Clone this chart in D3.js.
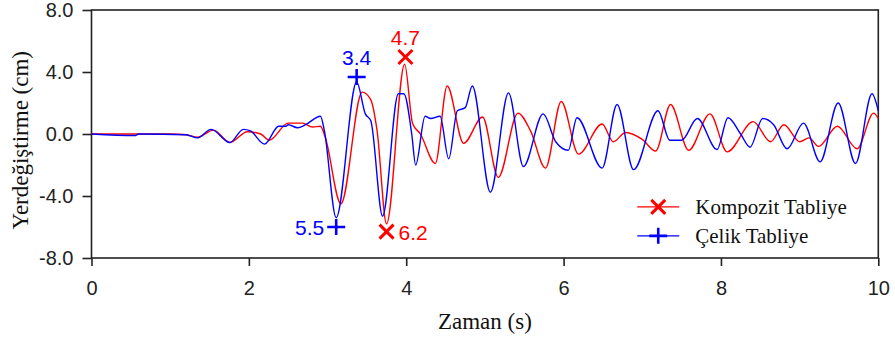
<!DOCTYPE html>
<html>
<head>
<meta charset="utf-8">
<script src="https://cdn.jsdelivr.net/npm/d3@7"></script>
<style>
  body { margin: 0; background: #fff; }
  .tick text { font-family: "Liberation Sans", Arial, sans-serif; font-size: 20px; fill: #222; }
  .title { font-family: "Liberation Serif", "Times New Roman", serif; font-size: 23px; fill: #111; }
  .legend text { font-family: "Liberation Serif", "Times New Roman", serif; font-size: 21px; fill: #111; }
  .peak_label { font-family: "Liberation Sans", Arial, sans-serif; font-size: 21px; }
</style>
</head>
<body>
<svg id="chart" width="895" height="338"></svg>
<script>
// Kompozit Tabliye (red)
var kompozitTime = [0, 0.5, 1.0, 1.2, 1.35, 1.55, 1.76, 1.98, 2.15, 2.26, 2.5, 2.68, 2.81, 2.91, 2.97, 3.17,
    3.44, 3.55, 3.63, 3.75, 3.98, 4.08, 4.18, 4.37, 4.52, 4.73, 4.97, 5.17, 5.42, 5.58, 5.77, 5.97, 6.19,
    6.49, 6.63, 6.79, 7.0, 7.17, 7.36, 7.59, 7.86, 8.08, 8.41, 8.63, 8.8, 9.0, 9.12, 9.24, 9.48, 9.73, 9.94, 10];
var kompozitDisp = [0, 0, 0, -0.05, -0.2, 0.25, -0.55, 0.15, 0.0, -0.4, 0.7, 0.7, 0.45, 0.5, -0.2, -4.5,
    2.7, 2.2, 0.2, -5.8, 4.5, 0.7, 0.0, -1.9, 3.1, -0.6, 1.1, -2.8, 1.35, 0.2, -2.2, 2.1, -1.3,
    0.65, -0.5, 0.1, -0.35, -1.1, 1.9, -1.05, 1.3, -1.15, 0.8, -0.5, 0.6, -0.5, -0.25, -0.8, 0.5, -0.95, 1.35, 1.0];

// Celik Tabliye (blue)
var celikTime = [0, 0.55, 0.6, 1.2, 1.35, 1.52, 1.76, 1.93, 2.02, 2.2, 2.38, 2.47, 2.5, 2.62, 2.72, 2.91, 2.96,
    3.11, 3.37, 3.48, 3.55, 3.7, 3.9, 3.97, 4.07, 4.12, 4.24, 4.31, 4.43, 4.54, 4.65, 4.75, 4.84, 5.07, 5.3,
    5.49, 5.74, 5.9, 6.06, 6.17, 6.49, 6.68, 6.89, 7.2, 7.35, 7.5, 7.7, 7.95, 8.09, 8.25, 8.37, 8.53, 8.67,
    8.84, 9.05, 9.26, 9.49, 9.71, 9.92, 10];
var celikDisp = [0, -0.1, 0, -0.05, -0.25, 0.3, -0.55, 0.3, 0.2, -0.65, 0.5, 0.5, 0.6, 0.4, 0.6, 1.15, 0.2,
    -5.4, 3.35, 1.3, 0.85, -5.3, 2.6, 2.6, 0.0, -2.0, 1.15, 1.0, 1.15, -1.6, 1.5, 1.7, 3.1, -3.75, 2.65,
    -2.1, 1.3, -0.5, -1.05, 1.05, -2.2, 1.9, -2.3, 1.5, -0.4, -0.4, 1.0, -1.0, 1.05, 0.0, -0.85, 1.0, 0.6,
    -0.95, 0.7, -1.8, 2.0, -1.9, 2.6, 1.5];

// peak markers
var kompozitPeakTime = [3.99, 3.75],
    kompozitPeakDisp = [4.97, -6.3],
    kompozitPeakLabel = ['4.7', '6.2'];
var celikPeakTime = [3.37, 3.11],
    celikPeakDisp = [3.68, -6.0],
    celikPeakLabel = ['3.4', '5.5'];

var xTicks = [0, 2, 4, 6, 8, 10],
    yTicks = [-8, -4, 0, 4, 8],
    seriesNames = ['Kompozit Tabliye', 'Çelik Tabliye'],
    seriesColors = ['#ff0000', '#0000ff'];

var width = 895, height = 338,
    margin = {top: 10, right: 16.7, bottom: 80, left: 91.5};

var svg = d3.select("#chart");
var g = svg.append("g")
    .attr("transform", "translate(" + margin.left + "," + margin.top + ")");

var w = width - margin.left - margin.right,
    h = height - margin.top - margin.bottom;

var x = d3.scaleLinear().domain([0, 10]).range([0, w]);
var y = d3.scaleLinear().domain([-8, 8]).range([h, 0]);

// frame
g.append("rect")
    .attr("width", w).attr("height", h)
    .attr("fill", "none").attr("stroke", "#222").attr("stroke-width", 1.6);

var xAxis = g.append("g")
    .attr("transform", "translate(0," + h + ")")
    .call(d3.axisBottom(x).tickValues(xTicks).tickSize(8).tickPadding(15).tickFormat(d3.format("d")));
var yAxis = g.append("g")
    .call(d3.axisLeft(y).tickValues(yTicks).tickSize(9).tickPadding(9).tickFormat(function(d) { return d.toFixed(1); }));
[xAxis, yAxis].forEach(function(a) {
    a.select(".domain").remove();
    a.selectAll(".tick line").attr("stroke", "#222").attr("stroke-width", 1.6);
});

// titles
g.append("text")
    .attr("class", "title")
    .attr("x", x(5)).attr("y", h + 71)
    .attr("text-anchor", "middle")
    .text("Zaman (s)");
g.append("text")
    .attr("class", "title")
    .attr("transform", "translate(" + (-64) + "," + y(-0.4) + ")rotate(-90)")
    .attr("text-anchor", "middle")
    .text("Yerdeğiştirme (cm)");

var line = d3.line()
    .x(function(d) { return x(d[0]); })
    .y(function(d) { return y(d[1]); })
    .curve(d3.curveMonotoneX);

var series = [
    d3.zip(kompozitTime, kompozitDisp),
    d3.zip(celikTime, celikDisp)
];

g.selectAll(".series")
    .data(series)
  .enter().append("path")
    .attr("class", "series")
    .attr("fill", "none")
    .attr("stroke", function(d, i) { return seriesColors[i]; })
    .attr("stroke-width", 1.4)
    .attr("d", line);

// markers
function cross(sel, color) {   // "x" marker
    sel.append("path")
        .attr("d", "M-7,-7L7,7M-7,7L7,-7")
        .attr("stroke", color).attr("stroke-width", 3).attr("fill", "none");
}
function plus(sel, color) {    // "+" marker
    sel.append("path")
        .attr("d", "M-9,0H9M0,-8V8")
        .attr("stroke", color).attr("stroke-width", 2.6).attr("fill", "none");
}

var kPeaks = d3.zip(kompozitPeakTime, kompozitPeakDisp, kompozitPeakLabel);
var cPeaks = d3.zip(celikPeakTime, celikPeakDisp, celikPeakLabel);

kPeaks.forEach(function(p) {
    var m = g.append("g").attr("transform", "translate(" + x(p[0]) + "," + y(p[1]) + ")");
    cross(m, seriesColors[0]);
    var up = p[1] > 0;
    m.append("text")
        .attr("class", "peak_label")
        .attr("fill", seriesColors[0])
        .attr("x", up ? 0 : 12)
        .attr("y", up ? -12 : 8)
        .attr("text-anchor", up ? "middle" : "start")
        .text(p[2]);
});
cPeaks.forEach(function(p) {
    var m = g.append("g").attr("transform", "translate(" + x(p[0]) + "," + y(p[1]) + ")");
    plus(m, seriesColors[1]);
    var up = p[1] > 0;
    m.append("text")
        .attr("class", "peak_label")
        .attr("fill", seriesColors[1])
        .attr("x", up ? 0 : -12)
        .attr("y", up ? -12 : 8)
        .attr("text-anchor", up ? "middle" : "end")
        .text(p[2]);
});

// legend
var legend = g.append("g").attr("class", "legend")
    .attr("transform", "translate(" + (x(7.0) - 5) + "," + (y(-4.7)) + ")");
var item = legend.selectAll(".item")
    .data(seriesNames)
  .enter().append("g")
    .attr("transform", function(d, i) { return "translate(0," + i * 29 + ")"; });
item.append("line")
    .attr("x1", 0).attr("x2", 42)
    .attr("stroke", function(d, i) { return seriesColors[i]; })
    .attr("stroke-width", 1.4);
item.each(function(d, i) {
    var m = d3.select(this).append("g").attr("transform", "translate(21,0)");
    if (i == 0) cross(m, seriesColors[0]); else plus(m, seriesColors[1]);
});
item.append("text")
    .attr("x", 58).attr("dy", "0.33em")
    .text(function(d) { return d; });
</script>
</body>
</html>
